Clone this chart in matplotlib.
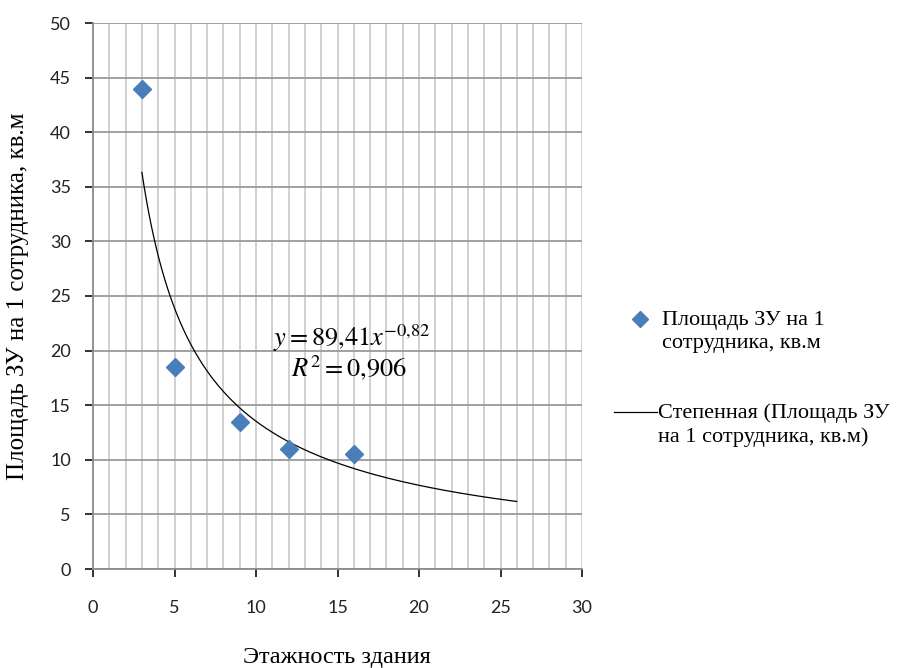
import matplotlib
matplotlib.use('Agg')
import matplotlib.pyplot as plt
from matplotlib.lines import Line2D
import numpy as np

# data
floors = [3, 5, 9, 12, 16]
area_per_worker = [44, 18.5, 13.5, 11, 10.5]

# power trend y = a * x^b as shown on the chart
trend_a = 89.41
trend_b = -0.82
trend_x_range = (3, 26)

series_label = "Площадь ЗУ на 1\nсотрудника, кв.м"
trend_label = "Степенная (Площадь ЗУ\nна 1 сотрудника, кв.м)"

plt.rcParams['mathtext.fontset'] = 'stix'

W, H = 899, 668
fig = plt.figure(figsize=(W / 100, H / 100), dpi=100)
ax = fig.add_axes([93 / W, 1 - 569 / H, 489 / W, 546 / H])

ax.set_xlim(0, 30)
ax.set_ylim(0, 50)
ax.set_xticks(np.arange(0, 31, 5))
ax.set_yticks(np.arange(0, 51, 5))
ax.set_xticks(np.arange(0, 31, 1), minor=True)

ax.grid(True, which='both', axis='x', color='#cdcdcd', lw=1.3)
ax.grid(True, which='major', axis='y', color='#9a9a9a', lw=1.3)
ax.set_axisbelow(True)

for s in ['top', 'right']:
    ax.spines[s].set_visible(False)
for s in ['left', 'bottom']:
    ax.spines[s].set_color('#8c8c8c')
    ax.spines[s].set_linewidth(1.3)
ax.tick_params(which='major', length=6, color='#8c8c8c', width=1.3)
ax.tick_params(which='minor', length=0)
ax.tick_params(axis='y', labelsize=13, colors='#222222', pad=10)
ax.tick_params(axis='x', labelsize=13, colors='#222222', pad=16)
for lbl in ax.get_xticklabels() + ax.get_yticklabels():
    lbl.set_fontfamily('Lato')

xs = np.linspace(trend_x_range[0], trend_x_range[1], 300)
ax.plot(xs, trend_a * xs ** trend_b, color='black', lw=0.9, zorder=3)
ax.plot(floors, area_per_worker, linestyle='none', marker='D', ms=9.5,
        color='#4a7ebb', zorder=4)

ax.text(15.9, 21.15, r'$y = 89{,}41x^{-0{,}82}$', fontsize=19, ha='center', va='center')
ax.text(15.7, 18.4, r'$R^2 = 0{,}906$', fontsize=19, ha='center', va='center')

serif = 'Liberation Serif'
fig.text(18 / W, 1 - 296 / H, "Площадь ЗУ на 1 сотрудника, кв.м", fontsize=18,
         fontfamily=serif, rotation=90, ha='center', va='center')
fig.text(337 / W, 1 - 657 / H, "Этажность здания", fontsize=17.5,
         fontfamily=serif, ha='center', va='center')

# legend drawn by hand so handles sit on the first text line
fig.add_artist(Line2D([640 / W], [1 - 319 / H], linestyle='none', marker='D',
                      ms=8, color='#4a7ebb', transform=fig.transFigure))
fig.text(662 / W, 1 - 332 / H, series_label, fontsize=16, fontfamily=serif,
         ha='left', va='center', linespacing=1.25)
fig.add_artist(Line2D([614 / W, 657 / W], [1 - 412 / H, 1 - 412 / H],
                      color='black', lw=0.9, transform=fig.transFigure))
fig.text(658 / W, 1 - 425 / H, trend_label, fontsize=16, fontfamily=serif,
         ha='left', va='center', linespacing=1.25)

plt.savefig('out.png', dpi=100)
